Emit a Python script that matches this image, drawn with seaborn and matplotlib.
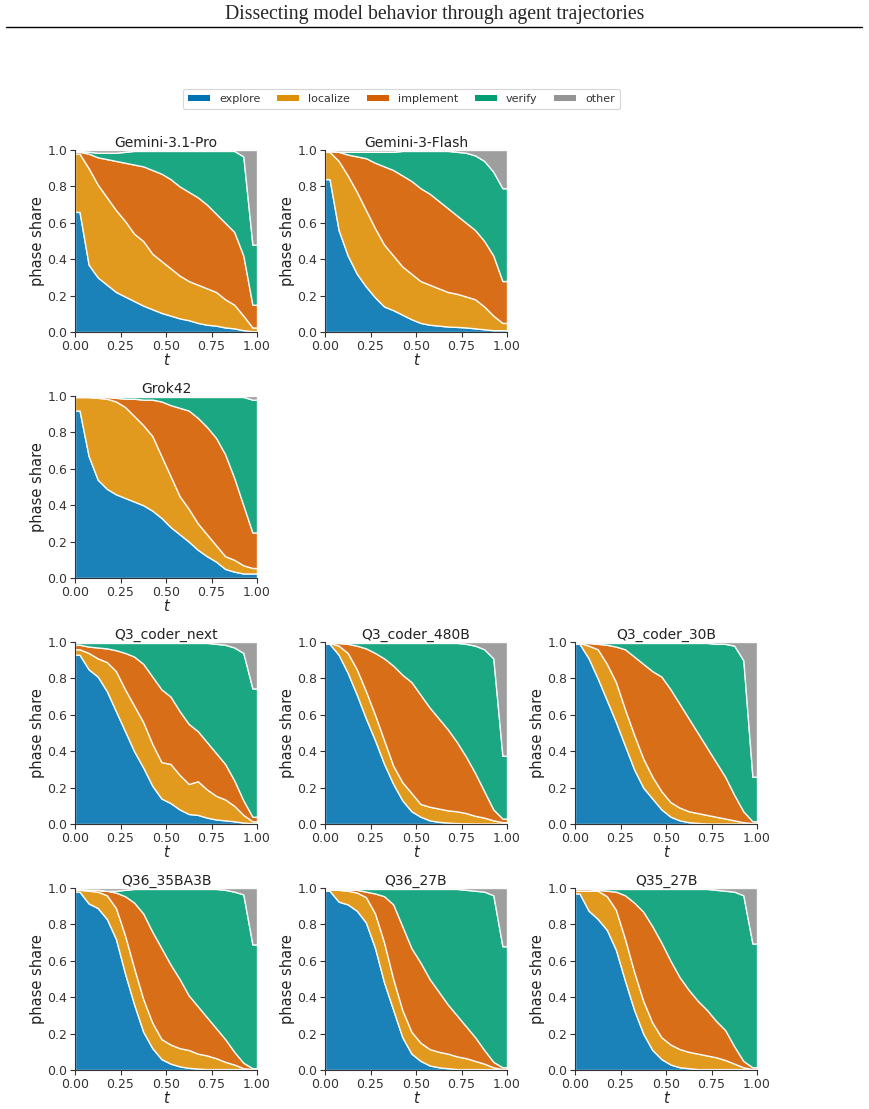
import numpy as np
import matplotlib
matplotlib.use("Agg")
import matplotlib.pyplot as plt
from matplotlib.patches import Patch
from matplotlib.lines import Line2D
import seaborn as sns

# ---------------- data ----------------
phases = ["explore", "localize", "implement", "verify", "other"]
# bin centres of the normalised trajectory time t (20 bins)
t_centers = [0.025, 0.075, 0.125, 0.175, 0.225, 0.275, 0.325, 0.375, 0.425, 0.475,
             0.525, 0.575, 0.625, 0.675, 0.725, 0.775, 0.825, 0.875, 0.925, 0.975]

# cumulative upper edges of explore / localize / implement / verify (other fills to 1)
gemini31_pro = [
    [0.66, 0.37, 0.30, 0.26, 0.22, 0.195, 0.17, 0.145, 0.125, 0.105, 0.09, 0.075, 0.065, 0.05, 0.04, 0.035, 0.025, 0.02, 0.01, 0.005],
    [0.98, 0.90, 0.81, 0.74, 0.67, 0.61, 0.54, 0.50, 0.43, 0.39, 0.35, 0.31, 0.28, 0.26, 0.24, 0.22, 0.18, 0.15, 0.09, 0.025],
    [0.99, 0.98, 0.96, 0.95, 0.94, 0.93, 0.92, 0.91, 0.89, 0.87, 0.84, 0.80, 0.77, 0.74, 0.70, 0.65, 0.60, 0.55, 0.42, 0.15],
    [0.995, 0.99, 0.985, 0.985, 0.985, 0.99, 0.995, 0.995, 0.995, 0.995, 0.995, 0.995, 0.995, 0.995, 0.995, 0.995, 0.995, 0.995, 0.965, 0.48],
]
gemini3_flash = [
    [0.84, 0.56, 0.42, 0.32, 0.25, 0.19, 0.14, 0.12, 0.095, 0.07, 0.05, 0.04, 0.035, 0.03, 0.028, 0.025, 0.02, 0.015, 0.01, 0.01],
    [0.99, 0.94, 0.86, 0.77, 0.67, 0.57, 0.48, 0.42, 0.36, 0.32, 0.28, 0.26, 0.24, 0.22, 0.21, 0.195, 0.18, 0.14, 0.09, 0.05],
    [0.995, 0.99, 0.975, 0.965, 0.955, 0.93, 0.91, 0.89, 0.86, 0.83, 0.79, 0.76, 0.72, 0.68, 0.64, 0.60, 0.56, 0.50, 0.42, 0.28],
    [0.995, 0.99, 0.99, 0.99, 0.99, 0.99, 0.99, 0.99, 0.995, 0.995, 0.995, 0.995, 0.995, 0.995, 0.99, 0.985, 0.97, 0.94, 0.88, 0.79],
]
grok42 = [
    [0.92, 0.67, 0.54, 0.49, 0.46, 0.44, 0.42, 0.40, 0.37, 0.33, 0.28, 0.24, 0.20, 0.155, 0.12, 0.09, 0.05, 0.035, 0.025, 0.025],
    [0.995, 0.995, 0.99, 0.985, 0.97, 0.94, 0.89, 0.84, 0.78, 0.67, 0.56, 0.45, 0.38, 0.30, 0.24, 0.18, 0.12, 0.10, 0.07, 0.055],
    [0.995, 0.995, 0.995, 0.995, 0.99, 0.985, 0.985, 0.98, 0.98, 0.97, 0.95, 0.935, 0.92, 0.88, 0.83, 0.77, 0.68, 0.55, 0.40, 0.25],
    [0.995, 0.995, 0.995, 0.995, 0.995, 0.995, 0.995, 0.995, 0.995, 0.995, 0.995, 0.995, 0.995, 0.995, 0.995, 0.995, 0.995, 0.995, 0.995, 0.98],
]
q3_coder_next = [
    [0.93, 0.85, 0.81, 0.73, 0.62, 0.51, 0.40, 0.31, 0.21, 0.14, 0.115, 0.08, 0.055, 0.05, 0.035, 0.025, 0.02, 0.015, 0.008, 0.005],
    [0.96, 0.94, 0.91, 0.89, 0.84, 0.74, 0.65, 0.56, 0.44, 0.34, 0.33, 0.27, 0.22, 0.235, 0.19, 0.155, 0.135, 0.10, 0.05, 0.015],
    [0.985, 0.975, 0.97, 0.965, 0.955, 0.94, 0.92, 0.88, 0.81, 0.74, 0.70, 0.62, 0.55, 0.51, 0.45, 0.39, 0.33, 0.24, 0.13, 0.04],
    [0.995, 0.995, 0.995, 0.995, 0.995, 0.995, 0.995, 0.995, 0.995, 0.995, 0.995, 0.995, 0.995, 0.995, 0.995, 0.99, 0.985, 0.97, 0.94, 0.745],
]
q3_coder_480b = [
    [0.99, 0.93, 0.83, 0.71, 0.58, 0.46, 0.33, 0.22, 0.13, 0.07, 0.04, 0.02, 0.012, 0.008, 0.005, 0.004, 0.003, 0.003, 0.003, 0.003],
    [0.995, 0.98, 0.94, 0.85, 0.73, 0.60, 0.46, 0.32, 0.23, 0.17, 0.11, 0.095, 0.085, 0.075, 0.07, 0.06, 0.045, 0.035, 0.02, 0.01],
    [0.995, 0.995, 0.99, 0.98, 0.965, 0.94, 0.91, 0.87, 0.82, 0.78, 0.71, 0.64, 0.58, 0.52, 0.45, 0.37, 0.28, 0.18, 0.08, 0.03],
    [0.995, 0.995, 0.995, 0.995, 0.995, 0.995, 0.995, 0.995, 0.995, 0.995, 0.995, 0.995, 0.995, 0.995, 0.995, 0.99, 0.98, 0.96, 0.91, 0.375],
]
q3_coder_30b = [
    [0.99, 0.91, 0.80, 0.68, 0.56, 0.43, 0.30, 0.20, 0.14, 0.08, 0.04, 0.02, 0.01, 0.006, 0.003, 0.003, 0.003, 0.003, 0.003, 0.003],
    [0.995, 0.98, 0.96, 0.88, 0.78, 0.63, 0.49, 0.36, 0.26, 0.18, 0.12, 0.09, 0.07, 0.06, 0.05, 0.04, 0.03, 0.02, 0.01, 0.005],
    [0.995, 0.995, 0.99, 0.985, 0.975, 0.96, 0.92, 0.88, 0.84, 0.81, 0.74, 0.66, 0.58, 0.50, 0.42, 0.34, 0.26, 0.16, 0.07, 0.015],
    [0.995, 0.995, 0.995, 0.995, 0.995, 0.995, 0.995, 0.995, 0.995, 0.995, 0.995, 0.995, 0.995, 0.995, 0.995, 0.99, 0.99, 0.98, 0.90, 0.26],
]
q36_35ba3b = [
    [0.98, 0.915, 0.89, 0.83, 0.72, 0.53, 0.36, 0.21, 0.12, 0.06, 0.035, 0.02, 0.012, 0.008, 0.005, 0.005, 0.005, 0.005, 0.005, 0.005],
    [0.99, 0.985, 0.98, 0.96, 0.89, 0.74, 0.56, 0.39, 0.26, 0.17, 0.14, 0.12, 0.11, 0.09, 0.08, 0.065, 0.045, 0.03, 0.01, 0.005],
    [0.995, 0.99, 0.99, 0.985, 0.975, 0.955, 0.92, 0.86, 0.76, 0.67, 0.58, 0.50, 0.41, 0.35, 0.29, 0.23, 0.17, 0.10, 0.04, 0.01],
    [0.995, 0.99, 0.99, 0.985, 0.985, 0.99, 0.995, 0.995, 0.995, 0.995, 0.995, 0.995, 0.995, 0.995, 0.995, 0.995, 0.99, 0.98, 0.965, 0.69],
]
q36_27b = [
    [0.985, 0.925, 0.91, 0.875, 0.81, 0.67, 0.48, 0.33, 0.18, 0.09, 0.05, 0.025, 0.015, 0.01, 0.005, 0.005, 0.005, 0.005, 0.005, 0.005],
    [0.99, 0.99, 0.985, 0.975, 0.95, 0.86, 0.70, 0.50, 0.33, 0.21, 0.15, 0.115, 0.10, 0.09, 0.075, 0.065, 0.05, 0.035, 0.015, 0.005],
    [0.995, 0.995, 0.99, 0.99, 0.98, 0.97, 0.955, 0.91, 0.79, 0.67, 0.59, 0.50, 0.43, 0.36, 0.30, 0.24, 0.18, 0.11, 0.045, 0.015],
    [0.995, 0.995, 0.995, 0.995, 0.995, 0.995, 0.995, 0.995, 0.995, 0.995, 0.995, 0.995, 0.995, 0.995, 0.995, 0.99, 0.985, 0.98, 0.96, 0.68],
]
q35_27b = [
    [0.97, 0.875, 0.83, 0.77, 0.66, 0.49, 0.33, 0.20, 0.11, 0.06, 0.03, 0.015, 0.01, 0.005, 0.005, 0.005, 0.005, 0.005, 0.005, 0.005],
    [0.985, 0.985, 0.985, 0.955, 0.88, 0.72, 0.54, 0.38, 0.26, 0.18, 0.14, 0.115, 0.10, 0.09, 0.08, 0.07, 0.055, 0.035, 0.015, 0.005],
    [0.995, 0.995, 0.99, 0.985, 0.98, 0.96, 0.92, 0.87, 0.79, 0.70, 0.60, 0.51, 0.44, 0.38, 0.33, 0.27, 0.22, 0.13, 0.05, 0.015],
    [0.995, 0.995, 0.995, 0.995, 0.995, 0.995, 0.995, 0.995, 0.995, 0.995, 0.995, 0.995, 0.995, 0.995, 0.995, 0.99, 0.985, 0.98, 0.96, 0.695],
]

model_names = ["Gemini-3.1-Pro", "Gemini-3-Flash", None,
               "Grok42", None, None,
               "Q3_coder_next", "Q3_coder_480B", "Q3_coder_30B",
               "Q36_35BA3B", "Q36_27B", "Q35_27B"]
model_data = {
    "Gemini-3.1-Pro": gemini31_pro, "Gemini-3-Flash": gemini3_flash, "Grok42": grok42,
    "Q3_coder_next": q3_coder_next, "Q3_coder_480B": q3_coder_480b, "Q3_coder_30B": q3_coder_30b,
    "Q36_35BA3B": q36_35ba3b, "Q36_27B": q36_27b, "Q35_27B": q35_27b,
}

# ---------------- style ----------------
sns.set_theme(style="ticks")
plt.rcParams["font.family"] = ["DejaVu Sans"]
colors = sns.color_palette("colorblind", 8)
phase_colors = [colors[0], colors[1], colors[3], colors[2], colors[7]]

fig = plt.figure(figsize=(8.69, 11.09), dpi=100)

W, H = 869, 1109
col_left = [75, 325, 575]
row_top = [150, 396, 642, 888]
size = 182

t_full = np.concatenate([[0.0], t_centers, [1.0]])

for idx, name in enumerate(model_names):
    if name is None:
        continue
    r, c = divmod(idx, 3)
    ax = fig.add_axes([col_left[c] / W, 1 - (row_top[r] + size) / H, size / W, size / H])
    cum = np.array(model_data[name])
    cum = np.vstack([np.zeros(len(t_centers)), cum, np.ones(len(t_centers))])
    shares = np.diff(cum, axis=0)
    shares = np.hstack([shares[:, :1], shares, shares[:, -1:]])
    ax.stackplot(t_full, shares, colors=phase_colors, alpha=0.9,
                 edgecolor="white", linewidth=1.0)
    ax.set_xlim(0, 1)
    ax.set_ylim(0, 1)
    ax.set_xticks([0, 0.25, 0.5, 0.75, 1.0])
    ax.set_yticks([0, 0.2, 0.4, 0.6, 0.8, 1.0])
    ax.set_xticklabels(["0.00", "0.25", "0.50", "0.75", "1.00"])
    ax.set_yticklabels(["0.0", "0.2", "0.4", "0.6", "0.8", "1.0"])
    ax.tick_params(labelsize=9, length=3.5, width=0.8, colors="#333333", pad=2)
    ax.set_xlabel("t", fontsize=10.5, style="italic", labelpad=0, color="#222222")
    ax.set_ylabel("phase share", fontsize=10.5, labelpad=2, color="#222222")
    ax.set_title(name, fontsize=10, pad=1, color="#222222")
    sns.despine(ax=ax)
    for sp in ["left", "bottom"]:
        ax.spines[sp].set_color("#333333")
        ax.spines[sp].set_linewidth(0.8)

# title + rule
fig.text(0.5, 1 - 14 / H, "Dissecting model behavior through agent trajectories",
         ha="center", va="center", fontsize=14.2, family=["Liberation Serif", "DejaVu Serif"])
fig.add_artist(Line2D([6 / W, 862 / W], [1 - 27 / H, 1 - 27 / H], color="black", lw=1.0,
                      transform=fig.transFigure))

handles = [Patch(facecolor=col, edgecolor="none") for col in phase_colors]
leg = fig.legend(handles, phases, loc="center", bbox_to_anchor=(401.5 / W, 1 - 99 / H),
                 ncol=5, fontsize=8, frameon=True, fancybox=True, handlelength=2.0,
                 handleheight=0.45, columnspacing=1.5, handletextpad=0.8,
                 borderpad=0.45)
leg.get_frame().set_edgecolor("#cccccc")
leg.get_frame().set_linewidth(0.8)
for txt in leg.get_texts():
    txt.set_color("#333333")

fig.savefig("out.png", dpi=100)
